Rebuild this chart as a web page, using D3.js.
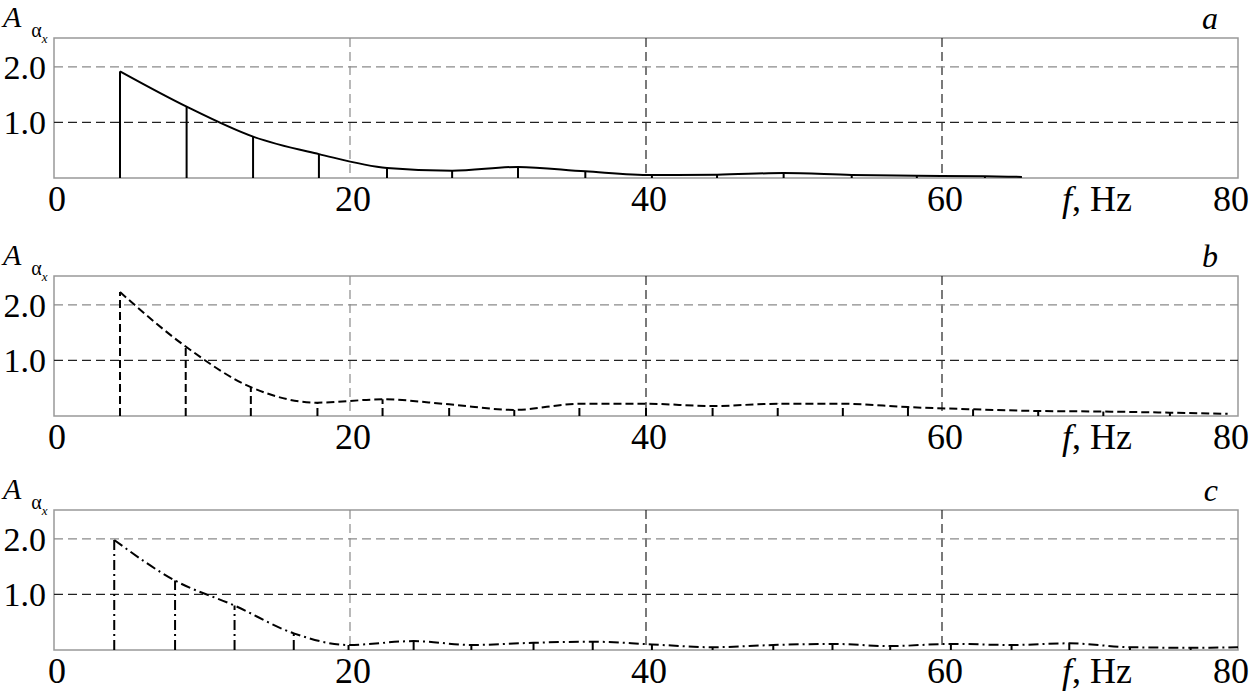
<!DOCTYPE html>
<html>
<head>
<meta charset="utf-8">
<script src="https://cdn.jsdelivr.net/npm/d3@7"></script>
<style>
  body { margin: 0; background: #fff; }
  svg { display: block; font-family: "Liberation Serif", "Times New Roman", serif; }
</style>
</head>
<body>
<svg id="chart"></svg>
<script>
const width = 1250;
const height = 692;

// axis ticks
const freqTicks = [0, 20, 40, 60, 80];
const ampTicks = [1.0, 2.0];
const panelNames = ['a', 'b', 'c'];

// panel a: harmonic frequencies (Hz) and amplitudes
const freqA = [4.46, 8.96, 13.45, 17.9, 22.5, 26.9, 31.35, 35.9, 40.4, 44.8, 49.3, 53.9, 58.3, 62.9];
const ampA  = [1.92, 1.285, 0.745, 0.43, 0.18, 0.13, 0.20, 0.12, 0.055, 0.06, 0.09, 0.055, 0.04, 0.03];

// panel b
const freqB = [4.46, 8.9, 13.3, 17.8, 22.2, 26.7, 31.1, 35.5, 40.0, 44.5, 48.9, 53.3, 57.7, 62.1, 66.5, 70.9, 75.4];
const ampB  = [2.23, 1.25, 0.52, 0.24, 0.30, 0.21, 0.11, 0.22, 0.22, 0.18, 0.22, 0.22, 0.16, 0.12, 0.09, 0.08, 0.06];

// panel c
const freqC = [4.07, 8.18, 12.2, 16.2, 19.9, 24.3, 28.2, 32.4, 36.4, 40.4, 44.5, 48.6, 52.6, 56.5, 60.6, 64.7, 68.6, 72.7, 76.8];
const ampC  = [1.98, 1.25, 0.80, 0.30, 0.09, 0.16, 0.09, 0.13, 0.15, 0.10, 0.05, 0.09, 0.11, 0.07, 0.11, 0.09, 0.12, 0.05, 0.04];

// where each curve runs out past its last harmonic
const tailFreq = [65.4, 79.3, 80];
const tailAmp  = [0.02, 0.04, 0.05];

const panels = [
    {freq: freqA, amp: ampA, dash: null},
    {freq: freqB, amp: ampB, dash: '8,4'},
    {freq: freqC, amp: ampC, dash: '10,4,2,4'}
];

const tops = [38, 276, 510];
const panelH = 140;
const left = 54;
const right = 1238;

const svg = d3.select('#chart')
    .attr('width', width)
    .attr('height', height);

const x = d3.scaleLinear().domain([0, 80]).range([left, right]);

// light / dark dashed grid lines like the scan
const vGridColor = {20: '#8a8a8a', 40: '#222', 60: '#222'};
const hGridColor = {1: '#222', 2: '#8a8a8a'};

panels.forEach((p, i) => {
    const top = tops[i];
    const bottom = top + panelH;
    const y = d3.scaleLinear().domain([0, 2.52]).range([bottom, top]);
    const g = svg.append('g');

    // frame
    g.append('rect')
        .attr('x', left).attr('y', top)
        .attr('width', right - left).attr('height', panelH)
        .attr('fill', 'none').attr('stroke', '#999').attr('stroke-width', 1.5);

    // grid
    g.selectAll('.vgrid').data([20, 40, 60]).enter()
        .append('line')
        .attr('x1', d => x(d)).attr('x2', d => x(d))
        .attr('y1', top).attr('y2', bottom)
        .attr('stroke', d => vGridColor[d]).attr('stroke-width', 1.2)
        .attr('stroke-dasharray', '9,5');

    g.selectAll('.hgrid').data(ampTicks).enter()
        .append('line')
        .attr('x1', left).attr('x2', right)
        .attr('y1', d => y(d)).attr('y2', d => y(d))
        .attr('stroke', d => hGridColor[d]).attr('stroke-width', 1.2)
        .attr('stroke-dasharray', '9,5');

    // tick labels
    g.selectAll('.ylab').data(ampTicks).enter()
        .append('text')
        .attr('x', 46).attr('y', d => y(d)).attr('dy', '0.35em')
        .attr('text-anchor', 'end')
        .attr('font-size', 34)
        .text(d => d.toFixed(1));

    g.selectAll('.xlab').data(freqTicks).enter()
        .append('text')
        .attr('x', d => x(d) + (d === 80 ? -7 : 3))
        .attr('y', bottom + 33)
        .attr('text-anchor', 'middle')
        .attr('font-size', 36)
        .text(d => d);

    const fl = g.append('text')
        .attr('x', 1062).attr('y', bottom + 33)
        .attr('font-size', 36);
    fl.append('tspan').attr('font-style', 'italic').text('f');
    fl.append('tspan').text(', Hz');

    // y label A_{alpha_x}
    const yl = g.append('text').attr('x', 3).attr('y', top - 11);
    yl.append('tspan').attr('font-style', 'italic').attr('font-size', 30).text('A');
    yl.append('tspan').attr('dx', 10).attr('dy', 10).attr('font-size', 20).text('α');
    yl.append('tspan').attr('dy', 6).attr('font-size', 13).attr('font-style', 'italic').text('x');

    // panel letter
    g.append('text')
        .attr('x', 1218).attr('y', top - 9)
        .attr('text-anchor', 'end')
        .attr('font-style', 'italic')
        .attr('font-size', 32)
        .text(panelNames[i]);

    // spectrum
    const pts = p.freq.map((f, k) => [f, p.amp[k]]);
    pts.push([tailFreq[i], tailAmp[i]]);

    const line = d3.line()
        .x(d => x(d[0]))
        .y(d => y(d[1]))
        .curve(d3.curveMonotoneX);

    g.append('path')
        .datum(pts)
        .attr('d', line)
        .attr('fill', 'none')
        .attr('stroke', '#000')
        .attr('stroke-width', 2)
        .attr('stroke-dasharray', p.dash);

    g.selectAll('.stem').data(p.freq).enter()
        .append('line')
        .attr('x1', d => x(d)).attr('x2', d => x(d))
        .attr('y1', bottom)
        .attr('y2', (d, k) => y(p.amp[k]))
        .attr('stroke', '#000')
        .attr('stroke-width', 2)
        .attr('stroke-dasharray', p.dash);
});
</script>
</body>
</html>
